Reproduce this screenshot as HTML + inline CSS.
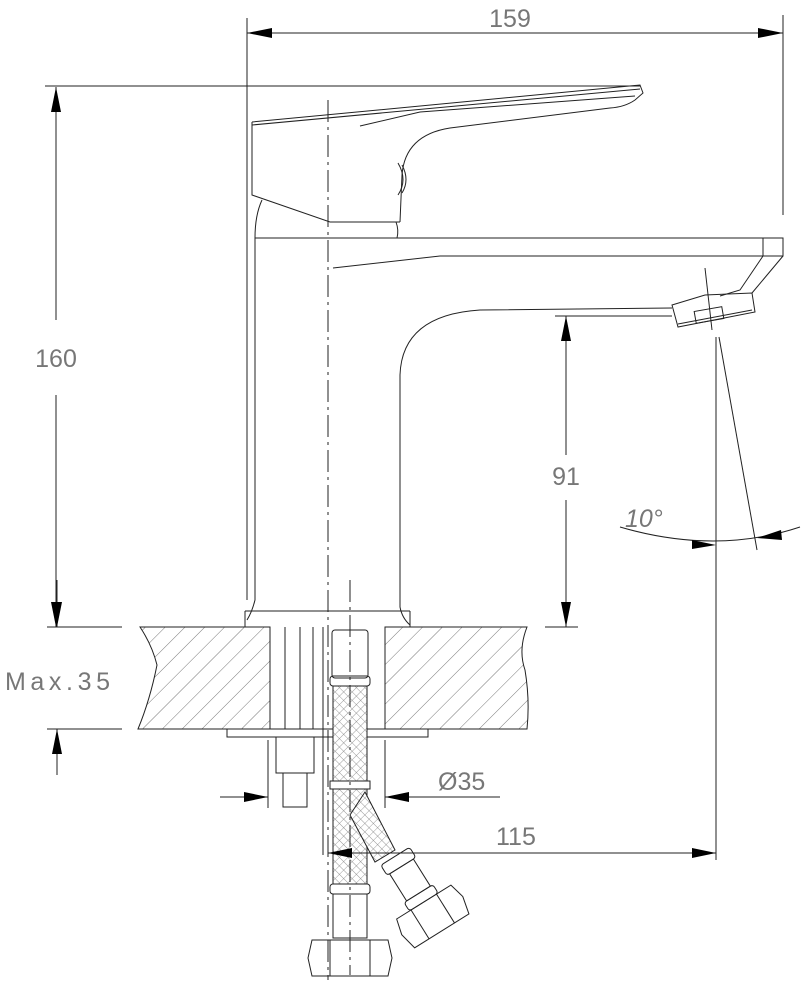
<!DOCTYPE html>
<html><head><meta charset="utf-8"><style>
html,body{margin:0;padding:0;background:#fff}
svg{display:block}
text{font-family:"Liberation Sans",sans-serif;fill:#777;font-size:25px;font-weight:normal}
</style></head><body>
<svg width="803" height="982" viewBox="0 0 803 982" xmlns="http://www.w3.org/2000/svg">
<defs>
<pattern id="hatch" width="14" height="14" patternUnits="userSpaceOnUse" patternTransform="rotate(45)">
<line x1="0" y1="0" x2="0" y2="14" stroke="#555" stroke-width="0.8"/>
</pattern>
<pattern id="mesh" width="6" height="6" patternUnits="userSpaceOnUse" patternTransform="rotate(45)">
<rect width="6" height="6" fill="#fff"/>
<path d="M0 0H6M0 0V6" stroke="#777" stroke-width="0.7"/>
</pattern>
</defs>
<g fill="none" stroke="#222" stroke-width="1">
<!-- 159 dimension -->
<line x1="247" y1="18" x2="247" y2="600"/>
<line x1="783" y1="15" x2="783" y2="215"/>
<line x1="247" y1="33" x2="783" y2="33"/>
<!-- 160 dimension -->
<line x1="45" y1="86" x2="640" y2="86"/>
<line x1="56" y1="87" x2="56" y2="320"/>
<line x1="56" y1="395" x2="56" y2="627"/>
<!-- Max.35 -->
<line x1="47" y1="627" x2="122" y2="627"/>
<line x1="47" y1="729" x2="122" y2="729"/>
<line x1="57" y1="580" x2="57" y2="627"/>
<line x1="57" y1="729" x2="57" y2="775"/>

<!-- handle -->
<path d="M252 122 L640 85 L643 93 L635 100 Q625 107 610 108 L450 128 Q405 135 402 175 L400 222"/>
<path d="M252 125 L640 89"/>
<path d="M360 126 L420 112 L635 96"/>
<path d="M252 122 L252 195 L330 222 L400 222"/>
<path d="M398 163 Q408 180 398 195" />
<path d="M402 165 Q410 180 402 193"/>
<path d="M262 200 Q255 215 255 238"/>
<path d="M396 222 Q399 230 397 238"/>
<!-- body -->
<path d="M255 238 L783 238 L783 256 L763 256 L763 238"/>
<path d="M333 268 L440 256 L763 256"/>
<path d="M783 256 L752 293 M763 256 L740 290 L720 296"/>
<path d="M672 305 L705 295 L752 293 L755 312 L678 327 Z"/>
<path d="M678 324 L752 310"/>
<rect x="695" y="309" width="28" height="12" transform="rotate(-10 709 315)"/>
<line x1="705" y1="268" x2="712" y2="330"/>
<path d="M672 308 L480 310 Q402 315 400 375 L400 607 Q402 618 410 625"/>
<path d="M255 238 L255 600 Q252 612 247 620"/>
<line x1="245" y1="611" x2="410" y2="611"/>
<line x1="245" y1="611" x2="245" y2="627"/>
<line x1="410" y1="611" x2="410" y2="627"/>
</g>
<!-- centerline -->
<line x1="328" y1="100" x2="328" y2="980" stroke="#222" stroke-width="1" stroke-dasharray="22,5,3,5"/>

<!-- countertop -->
<path d="M140 627 L270 627 L270 729 L138 729 Q150 700 157 665 Q152 645 140 627 Z" fill="url(#hatch)" stroke="#222"/>
<path d="M385 627 L527 627 Q518 650 525 670 Q530 700 527 729 L385 729 Z" fill="url(#hatch)" stroke="#222"/>
<g fill="none" stroke="#222" stroke-width="1">
<rect x="227" y="729" width="201" height="8"/>
<line x1="285" y1="627" x2="285" y2="729"/>
<line x1="300" y1="627" x2="300" y2="729"/>
<line x1="313" y1="627" x2="313" y2="729"/>
<line x1="323" y1="627" x2="323" y2="855"/>
<!-- bolt nut -->
<rect x="276" y="737" width="38" height="36"/>
<rect x="283" y="773" width="24" height="34"/>
<!-- hose -->
<rect x="332" y="630" width="36" height="48" rx="3"/>
<rect x="330" y="676" width="40" height="10" rx="3"/>
</g>
<rect x="333" y="686" width="34" height="95" fill="url(#mesh)" stroke="#222"/>
<rect x="330" y="781" width="40" height="8" fill="#fff" stroke="#222"/>
<rect x="333" y="789" width="34" height="95" fill="url(#mesh)" stroke="#222"/>
<path d="M365 792 L395 850 L375 862 L350 815 Z" fill="url(#mesh)" stroke="#222"/>
<g fill="none" stroke="#222" stroke-width="1">
<rect x="330" y="884" width="40" height="10" rx="3"/>
<rect x="333" y="894" width="34" height="44"/>
<path d="M312 940 L388 940 L392 958 L388 976 L312 976 L308 958 Z"/>
<line x1="330" y1="940" x2="330" y2="976"/><line x1="370" y1="940" x2="370" y2="976"/>
<g transform="rotate(-32 410 880)">
<rect x="393" y="852" width="34" height="12" rx="3"/>
<rect x="396" y="864" width="28" height="32"/>
<rect x="393" y="896" width="34" height="10" rx="3"/>
<path d="M378 906 L442 906 L446 922 L442 940 L378 940 L374 922 Z"/>
<line x1="395" y1="906" x2="395" y2="940"/><line x1="425" y1="906" x2="425" y2="940"/>
</g>
</g>
<line x1="350" y1="580" x2="350" y2="975" stroke="#222" stroke-dasharray="22,5,3,5"/>

<!-- 91 dim -->
<g fill="none" stroke="#222" stroke-width="1">
<line x1="555" y1="316" x2="672" y2="316"/>
<line x1="545" y1="627" x2="578" y2="627"/>
<line x1="566" y1="316" x2="566" y2="455"/>
<line x1="566" y1="500" x2="566" y2="627"/>
<!-- angle -->
<line x1="716" y1="337" x2="716" y2="860"/>
<line x1="719" y1="337" x2="757" y2="550"/>
<path d="M620 527 Q716 555 800 527"/>
<!-- 115 -->
<line x1="328" y1="853" x2="716" y2="853"/>
<!-- Ø35 -->
<line x1="220" y1="797" x2="268" y2="797"/>
<line x1="385" y1="797" x2="500" y2="797"/>
<line x1="268" y1="740" x2="268" y2="808"/>
<line x1="385" y1="740" x2="385" y2="808"/>
</g>
<g fill="#000">
<polygon points="247,33 272,28 272,38"/>
<polygon points="783,33 758,28 758,38"/>
<polygon points="56,87 51,112 61,112"/>
<polygon points="56,627 51,602 61,602"/>
<polygon points="57,627 52,602 62,602"/>
<polygon points="57,729 52,754 62,754"/>
<polygon points="566,316 561,341 571,341"/>
<polygon points="566,627 561,602 571,602"/>
<polygon points="716,545 692,540 692,549"/>
<polygon points="757,538 781,530 782,540"/>
<polygon points="328,853 352,848 352,858"/>
<polygon points="716,853 692,848 692,858"/>
<polygon points="268,797 244,792 244,802"/>
<polygon points="385,797 409,792 409,802"/>
</g>
<text x="510" y="27" text-anchor="middle">159</text>
<text x="56" y="367" text-anchor="middle">160</text>
<text x="566" y="485" text-anchor="middle">91</text>
<text x="5" y="690" textLength="105">Max.35</text>
<text x="438" y="790">Ø35</text>
<text x="496" y="845">115</text>
<text x="625" y="527" font-style="italic" font-size="22">10°</text>
</svg>
</body></html>
